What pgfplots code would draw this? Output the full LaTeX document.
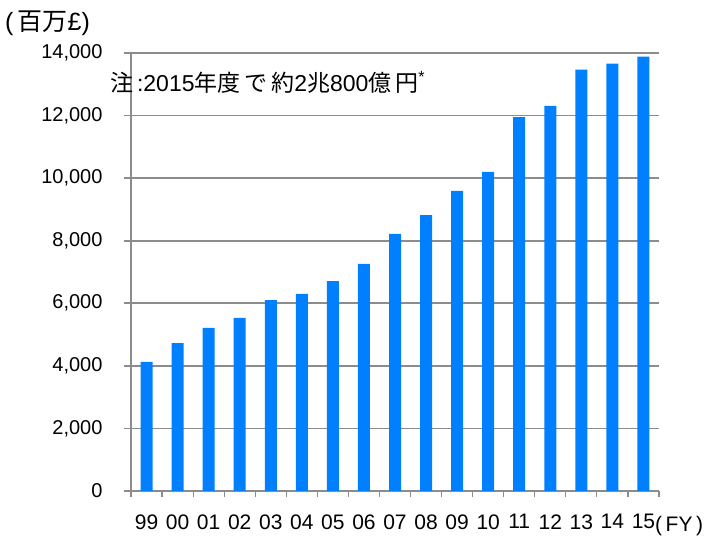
\documentclass[border=0pt]{standalone}
\usepackage{pgfplots}
\pgfplotsset{compat=1.18}
\usepackage{fontspec}
\setmainfont{Liberation Sans}
\newfontfamily\cjk{Noto Sans CJK JP}
\definecolor{barblue}{RGB}{0,128,255}
\definecolor{gridgray}{RGB}{140,140,140}
\begin{document}
\begin{tikzpicture}[x=1pt,y=1pt]
\useasboundingbox (0pt,0pt) rectangle (707pt,538pt);
\begin{axis}[
  at={(131pt,47pt)}, anchor=south west,
  scale only axis, width=528pt, height=438pt,
  xmin=-0.5, xmax=16.5, ymin=0, ymax=14000,
  axis x line*=bottom, axis y line*=left,
  axis line style={gridgray, line width=1.6pt, -},
  ybar, bar width=12pt,
  xtick={0,...,16},
  xticklabels={99,00,01,02,03,04,05,06,07,08,09,10,11,12,13,14,15},
  minor xtick={-0.5,0.5,...,16.5},
  major x tick style={draw=none},
  minor tick length=6pt,
  minor x tick style={gridgray, line width=1.2pt},
  ytick={0,2000,...,14000},
  tick align=outside,
  major tick length=7pt,
  y tick style={gridgray, line width=1.6pt},
  ymajorgrids, major grid style={gridgray, line width=1.6pt},
  scaled y ticks=false,
  /pgf/number format/assume math mode=true,
  yticklabel={\pgfmathprintnumber[fixed,1000 sep={,}]{\tick}},
  tick label style={font=\fontsize{20}{24}\selectfont, text=black},
  yticklabel style={xshift=-18pt},
  xticklabel style={yshift=-13pt, font=\fontsize{21}{24}\selectfont},
]
\addplot[fill=barblue, draw=none] coordinates {
(0,4125) (1,4730) (2,5210) (3,5530) (4,6100) (5,6300) (6,6710) (7,7260)
(8,8215) (9,8820) (10,9590) (11,10200) (12,11950) (13,12310) (14,13470) (15,13660) (16,13880)};
\end{axis}
\node[anchor=west, inner sep=0pt, font=\fontsize{25}{28}\selectfont] at (5pt,515pt) {(\,{\cjk 百万}£)};
\node[anchor=west, inner sep=0pt, font=\fontsize{21}{24}\selectfont] at (655pt,12pt) {(\,FY\,)};
\node[anchor=west, inner sep=0pt, font=\fontsize{23}{26}\selectfont] at (110pt,456pt)
  {{\cjk 注}\,:2015{\cjk 年度\,で\,約}2{\cjk 兆}800{\cjk 億\,円}\textsuperscript{*}};
\end{tikzpicture}
\end{document}
